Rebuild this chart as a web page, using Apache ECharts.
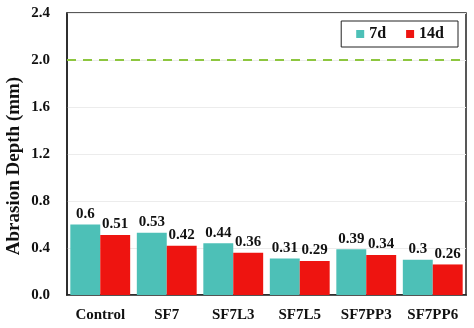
<!DOCTYPE html>
<html>
<head>
<meta charset="utf-8">
<script src="https://cdn.jsdelivr.net/npm/echarts@6/dist/echarts.min.js"></script>
<style>
  html, body { margin: 0; padding: 0; background: #fff; }
  #chart { width: 474px; height: 328px; }
</style>
</head>
<body>
<div id="chart"></div>
<script>
// Abrasion depth of each mix after 7 and 14 days
const categories = ['Control', 'SF7', 'SF7L3', 'SF7L5', 'SF7PP3', 'SF7PP6'];
const depth7d = [0.6, 0.53, 0.44, 0.31, 0.39, 0.3];
const depth14d = [0.51, 0.42, 0.36, 0.29, 0.34, 0.26];
const yTicks = [0, 0.4, 0.8, 1.2, 1.6, 2.0, 2.4];
const limitLine = 2.0;

const serif = '"Liberation Serif", "Times New Roman", serif';

const chart = echarts.init(document.getElementById('chart'));

const labelStyle = {
  show: true,
  position: 'top',
  distance: 3,
  fontFamily: serif,
  fontWeight: 'bold',
  fontSize: 15,
  color: '#111'
};

chart.setOption({
  animation: false,
  grid: {
    left: 67, right: 8, top: 13, bottom: 33,
    outerBoundsMode: 'none',
    containLabel: false,
    show: true, borderColor: '#222', borderWidth: 1.5, backgroundColor: 'transparent'
  },
  legend: {
    data: ['7d', '14d'],
    right: 16, top: 21,
    orient: 'horizontal',
    icon: 'rect',
    itemWidth: 8, itemHeight: 8,
    itemGap: 20,
    padding: [5, 14, 5, 15],
    borderColor: '#222', borderWidth: 1,
    textStyle: { fontFamily: serif, fontWeight: 'bold', fontSize: 16, color: '#111' }
  },
  xAxis: {
    type: 'category',
    data: categories,
    axisLine: { lineStyle: { color: '#222', width: 1.5 } },
    axisTick: { show: false },
    axisLabel: {
      interval: 0, hideOverlap: false,
      fontFamily: serif, fontWeight: 'bold', fontSize: 15, color: '#111', margin: 13
    }
  },
  yAxis: {
    type: 'value',
    min: yTicks[0], max: yTicks[yTicks.length - 1], interval: 0.4,
    name: 'Abrasion Depth (mm)',
    nameLocation: 'middle',
    nameGap: 43,
    nameMoveOverlap: false,
    nameTextStyle: {
      fontFamily: serif, fontWeight: 'bold', fontSize: 19, color: '#111',
      padding: [0, 24, 0, 0]
    },
    axisLine: { show: true, lineStyle: { color: '#222', width: 1.5 } },
    axisTick: { show: false },
    splitLine: { lineStyle: { color: '#ececec', width: 1 } },
    axisLabel: {
      fontFamily: serif, fontWeight: 'bold', fontSize: 15, color: '#111', margin: 17,
      formatter: v => v.toFixed(1)
    }
  },
  series: [
    {
      name: '7d', type: 'bar', data: depth7d,
      barGap: '0%', barCategoryGap: '10%',
      itemStyle: { color: '#4dc0b7' },
      label: labelStyle,
      markLine: {
        silent: true, symbol: 'none', label: { show: false },
        lineStyle: { color: '#8dc63f', width: 2, type: [9, 7] },
        data: [{ yAxis: limitLine }]
      }
    },
    {
      name: '14d', type: 'bar', data: depth14d,
      itemStyle: { color: '#ee1410' },
      label: labelStyle
    }
  ]
});
</script>
</body>
</html>
